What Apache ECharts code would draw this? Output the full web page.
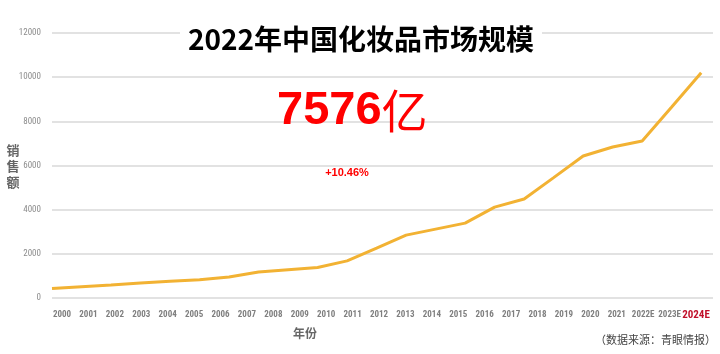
<!DOCTYPE html>
<html><head><meta charset="utf-8">
<script src="https://cdn.jsdelivr.net/npm/echarts@6/dist/echarts.min.js"></script>
<style>html,body{margin:0;padding:0;background:#fff}#c{width:720px;height:354px}</style>
</head><body><div id="c"></div>
<script>
const yearLabels = ['2000','2001','2002','2003','2004','2005','2006','2007','2008','2009','2010','2011','2012','2013','2014','2015','2016','2017','2018','2019','2020','2021','2022E','2023E','2024E'];
const salesValues = [430, 510, 590, 680, 760, 830, 950, 1180, 1280, 1380, 1680, 2260, 2846, 3120, 3390, 4117, 4480, 5450, 6432, 6840, 7113, 8650, 10200];
const yTicks = [0, 2000, 4000, 6000, 8000, 10000, 12000];
const titleText = '2022年中国化妆品市场规模';
const bigNumber = '7576';
const growthText = '+10.46%';
const sourceText = '（数据来源：青眼情报）';

const chart = echarts.init(document.getElementById('c'), null, {renderer: 'canvas'});
const axisFont = "'Liberation Sans Narrow','Roboto Condensed','Liberation Sans',sans-serif";
chart.setOption({
  animation: false,
  backgroundColor: '#fff',
  grid: [
    {left: 52, right: 7, top: 33, bottom: 56},
    {left: 62, right: 24, top: 33, bottom: 56}
  ],
  xAxis: [
    {type: 'value', gridIndex: 0, min: 0, max: 22.4, show: false},
    {type: 'category', gridIndex: 1, data: yearLabels, boundaryGap: false,
     axisLine: {show: false}, axisTick: {show: false}, splitLine: {show: false},
     axisLabel: {interval: 0, margin: 12, color: '#7f7f7f', fontSize: 9, fontWeight: 'bold', fontFamily: axisFont,
       formatter: function (v) { return v === '2024E' ? '{hi|' + v + '}' : v; },
       rich: {hi: {color: '#c0102a', fontSize: 11, fontWeight: 'bold', fontFamily: axisFont}}}}
  ],
  yAxis: [
    {type: 'value', gridIndex: 0, min: yTicks[0], max: yTicks[yTicks.length - 1], interval: 2000,
     axisLine: {show: false}, axisTick: {show: false},
     splitLine: {lineStyle: {color: '#d9d9d9', width: 1.5}},
     axisLabel: {color: '#8c8c8c', fontSize: 9, fontFamily: axisFont, margin: 11, formatter: function (v) { return String(v); }}},
    {type: 'value', gridIndex: 1, min: 0, max: 12000, show: false}
  ],
  series: [{
    type: 'line', xAxisIndex: 0, yAxisIndex: 0,
    data: salesValues.map((v, i) => [i, v]),
    symbol: 'none', lineStyle: {color: '#f2b233', width: 3}
  }],
  graphic: [
    {type: 'rect', left: 180, top: 22, shape: {width: 362, height: 34}, style: {fill: '#fff'}, z: 10},
    {type: 'text', x: 361, y: 39, z: 11, style: {text: titleText, fill: '#000', font: "bold 28px 'Noto Sans CJK SC', sans-serif", align: 'center', verticalAlign: 'middle'}},
    {type: 'text', x: 277, y: 111, z: 11, style: {text: '{n|' + bigNumber + '}{u|亿}', verticalAlign: 'middle',
      rich: {n: {fill: '#ff0000', font: "bold 47px 'Liberation Sans', Arial, sans-serif"},
             u: {fill: '#ff0000', font: "normal 46px 'Noto Sans CJK SC', sans-serif"}}}},
    {type: 'text', x: 347, y: 173, z: 11, style: {text: growthText, fill: '#ff0000', font: "bold 11px 'Liberation Sans', Arial, sans-serif", align: 'center', verticalAlign: 'middle'}},
    {type: 'text', x: 13, y: 166, z: 11, style: {text: '销\n售\n额', fill: '#666', font: "bold 13px 'Noto Sans CJK SC', sans-serif", align: 'center', verticalAlign: 'middle', lineHeight: 16}},
    {type: 'text', x: 305, y: 333, z: 11, style: {text: '年份', fill: '#666', font: "bold 12px 'Noto Sans CJK SC', sans-serif", align: 'center', verticalAlign: 'middle'}},
    {type: 'text', x: 716, y: 340, z: 11, style: {text: sourceText, fill: '#444', font: "normal 11px 'Noto Sans CJK SC', sans-serif", align: 'right', verticalAlign: 'middle'}}
  ]
});
</script></body></html>
